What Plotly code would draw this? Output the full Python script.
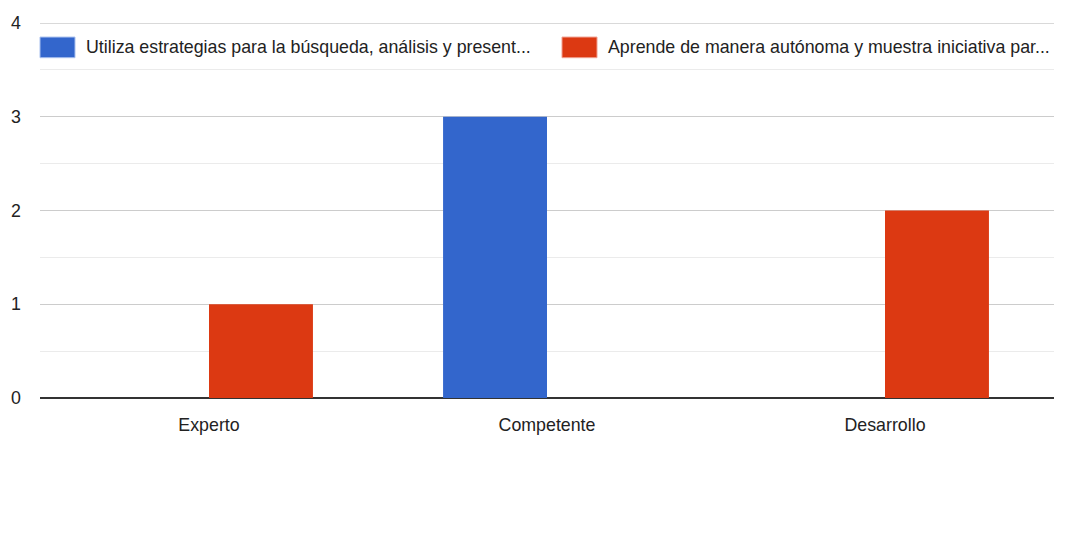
import plotly.graph_objects as go

categories = ["Experto", "Competente", "Desarrollo"]
series_names = [
    "Utiliza estrategias para la búsqueda, análisis y present...",
    "Aprende de manera autónoma y muestra iniciativa par...",
]
blue_values = [0, 3, 0]
red_values = [1, 0, 2]
colors = ["#3366cc", "#dc3912"]
y_ticks = [0, 1, 2, 3, 4]

FONT = "Liberation Sans, Arial, sans-serif"
FS = 17.8

fig = go.Figure()
fig.add_trace(go.Bar(x=categories, y=blue_values, name=series_names[0],
                     marker=dict(color=colors[0], line=dict(width=0)), showlegend=False))
fig.add_trace(go.Bar(x=categories, y=red_values, name=series_names[1],
                     marker=dict(color=colors[1], line=dict(width=0)), showlegend=False))

# page body has an 8px margin
W, H = 1069, 520
ml, mr, mt, mb = 32, 23, 15, 130
pw = W - ml - mr
ph = H - mt - mb

fig.update_layout(
    width=W, height=H,
    margin=dict(l=ml, r=mr, t=mt, b=mb, pad=0),
    paper_bgcolor="white", plot_bgcolor="white",
    barmode="group", bargap=0.385, bargroupgap=0,
    font=dict(family=FONT, size=FS, color="#222222"),
    xaxis=dict(showgrid=False, showline=False, ticks="", automargin=False,
               tickfont=dict(size=FS, color="#222222"), ticklabelstandoff=14),
    yaxis=dict(range=[0, 4], tickvals=y_ticks, showgrid=True, gridcolor="#cccccc", gridwidth=1,
               zeroline=True, zerolinecolor="#333333", zerolinewidth=2, automargin=False,
               tickfont=dict(size=FS, color="#222222"), ticklabelstandoff=18,
               minor=dict(dtick=0.5, showgrid=True, gridcolor="#ebebeb", gridwidth=1)),
)

# top gridline at max value
fig.add_shape(type="line", xref="paper", yref="y", x0=0, x1=1, y0=y_ticks[-1], y1=y_ticks[-1],
              line=dict(color="#cccccc", width=1.5), layer="below")

# custom legend
legend_items = [(0.0, series_names[0], colors[0], "#a9c0ee"),
                ((562 - 40) / pw, series_names[1], colors[1], "#f0a090")]
sw = 35 / pw
for x0, name, col, edge in legend_items:
    fig.add_shape(type="rect", xref="paper", yref="y", x0=x0, x1=x0 + sw, y0=3.63, y1=3.85,
                  fillcolor=col, line=dict(width=1, color=edge))
    fig.add_annotation(xref="paper", yref="y", x=x0 + 44 / pw, y=3.745, text=name, showarrow=False,
                       xanchor="left", yanchor="middle",
                       font=dict(size=FS, color="#222222"))

# right border strip
fig.add_shape(type="rect", xref="paper", yref="paper", x0=(1071 - 40) / pw,
              x1=(1075 - 40) / pw, y0=-mb / ph, y1=1 + 5 / ph,
              fillcolor="#e6e8eb", line=dict(width=0), layer="above")

fig.write_html("out.html")
